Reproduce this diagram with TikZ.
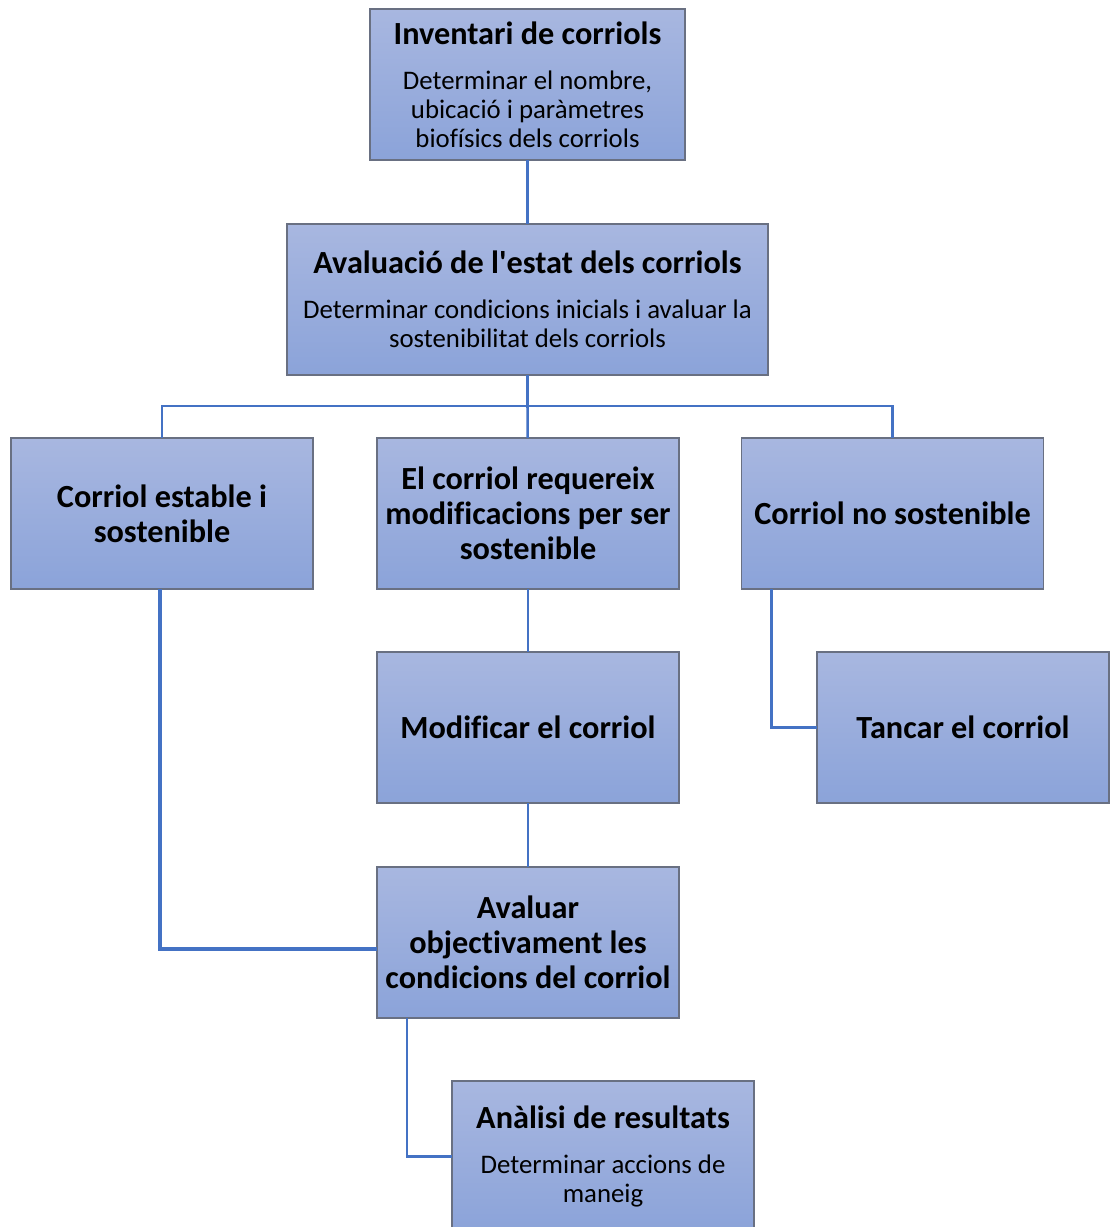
\documentclass[tikz,border=0pt]{standalone}
\usepackage{fontspec}
\setmainfont{Carlito}[Ligatures={TeXOff,NoCommon}]
\usepackage{tikz}
\usetikzlibrary{calc}
\definecolor{kastop}{RGB}{168,183,224}
\definecolor{kasbot}{RGB}{139,163,217}
\definecolor{rand}{RGB}{105,112,130}
\definecolor{lijn}{RGB}{68,114,196}
\newcommand{\grootschrift}{\fontsize{24.2}{26.3}\selectfont\bfseries}
\newcommand{\kleinschrift}{\fontsize{20.1}{21.8}\selectfont}

\begin{document}
\begin{tikzpicture}
     [
     x=0.75pt, y=-0.75pt,
     kast/.style = {draw=rand, line width=0.8pt, top color=kastop, bottom color=kasbot,
                    minimum width=226.5pt, minimum height=113.25pt, inner sep=2pt,
                    outer sep=0pt, align=center, font=\grootschrift},
     tekstkast/.style = {kast, font=\kleinschrift},
     lijntje/.style = {draw=lijn, line width=1.9pt}
     ]

     \useasboundingbox (0,0) rectangle (1110,1227);

     \draw (527.5,84.5) node[tekstkast,minimum width=236.25pt] (inv)
                 {{\grootschrift Inventari de corriols}\\[12pt]
                  Determinar el nombre,\\ ubicació i paràmetres\\ biofísics dels corriols}
           (527.5,299.5) node[tekstkast,minimum width=360.75pt] (ava)
                 {{\grootschrift Avaluació de l'estat dels corriols}\\[12pt]
                  Determinar condicions inicials i avaluar la\\ sostenibilitat dels corriols}
           (162,513.5) node[kast] (ces) {Corriol estable i\\ sostenible}
           (528,513.5) node[kast] (req) {El corriol requereix\\ modificacions per ser\\ sostenible}
           (892.5,513.5) node[kast] (ncs) {Corriol no sostenible}
           (528,727.5) node[kast] (mod) {Modificar el corriol}
           (963,727.5) node[kast,minimum width=219pt] (tan) {Tancar el corriol}
           (528,942.5) node[kast] (aob) {Avaluar\\ objectivament les\\ condicions del corriol}
           (603,1156.5) node[tekstkast] (ana)
                 {{\grootschrift Anàlisi de resultats}\\[12pt]
                  Determinar accions de\\ maneig}
     ;

     \coordinate (split) at (527.5,406);

     \draw[lijntje] (inv) -- (ava);
     \draw[lijntje] (ava) -- (split) -| (ces);
     \draw[lijntje] (split) -| (ncs);
     \draw[lijntje] (split) -- (req);
     \draw[lijntje] (req) -- (mod);
     \draw[lijntje] (mod) -- (aob);
     \draw[lijntje] ($(ncs.south west)+(30,0)$) |- (tan.west);
     \draw[lijntje] ($(aob.south west)+(30,0)$) |- (ana.west);
     \draw[lijntje, line width=3pt] ($(ces.south)+(-2,0)$) |- ($(aob.west)+(0,6)$);
\end{tikzpicture}
\end{document}
